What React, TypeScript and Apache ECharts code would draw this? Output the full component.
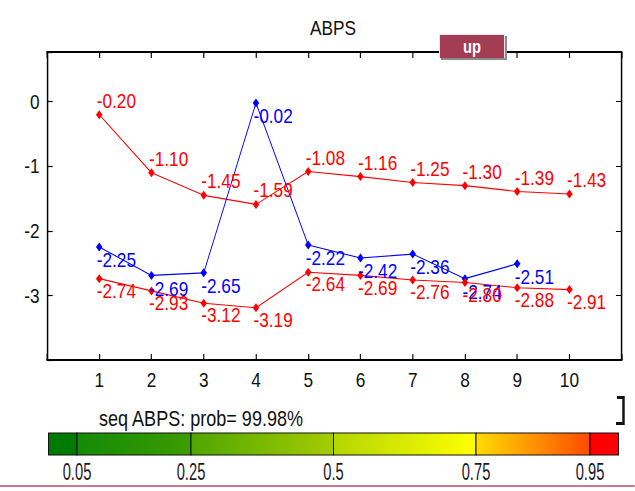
import React, { useEffect, useRef } from "react";
import * as echarts from "echarts";

const xCats = [1, 2, 3, 4, 5, 6, 7, 8, 9, 10];
const redUpper = [-0.2, -1.1, -1.45, -1.59, -1.08, -1.16, -1.25, -1.3, -1.39, -1.43];
const blueMid = [-2.25, -2.69, -2.65, -0.02, -2.22, -2.42, -2.36, -2.74, -2.51];
const redLower = [-2.74, -2.93, -3.12, -3.19, -2.64, -2.69, -2.76, -2.8, -2.88, -2.91];
const yTickLabels = [0, -1, -2, -3];
const probBreaks = [0.05, 0.25, 0.5, 0.75, 0.95];
const probText = "seq ABPS: prob= 99.98%";
const titleText = "ABPS";
const buttonText = "up";

const FONT = "'Liberation Sans', Arial, sans-serif";

// The reference uses a condensed face; the whole chart is drawn wider and squeezed horizontally.
const S = 0.82;
const W = 635;
const H = 491;
const LW = W / S;
const X = (realX: number) => realX / S;

const pairs = (vals: number[]) => vals.map((v, i) => [xCats[i], v]);

export default function App() {
  const ref = useRef<HTMLDivElement>(null);
  useEffect(() => {
    if (!ref.current) return;
    const chart = echarts.init(ref.current, null, { renderer: "svg" });

    const barX0 = X(48.5);
    const barX1 = X(618.5);
    const barY = 433;
    const barH = 22;
    const bw = barX1 - barX0;
    const px = (f: number) => barX0 + f * bw;
    const segColors: [string, string][] = [
      ["#007a00", "#007a00"],
      ["#138a08", "#3d9c00"],
      ["#4fa600", "#a6cc00"],
      ["#b5d600", "#ffff00"],
      ["#ffdc00", "#ff4a00"],
      ["#ff0000", "#ff0000"],
    ];
    const edges = [0, ...probBreaks, 1];
    const barGraphics: any[] = [];
    for (let i = 0; i < edges.length - 1; i++) {
      const x0 = px(edges[i]);
      const x1 = px(edges[i + 1]);
      barGraphics.push({
        type: "rect",
        shape: { x: x0, y: barY, width: x1 - x0, height: barH },
        style: {
          fill: new echarts.graphic.LinearGradient(0, 0, 1, 0, [
            { offset: 0, color: segColors[i][0] },
            { offset: 1, color: segColors[i][1] },
          ]),
          stroke: "#111",
          lineWidth: 1.2,
        },
        silent: true,
      });
    }
    probBreaks.forEach((b) => {
      barGraphics.push({
        type: "text",
        x: px(b),
        y: 472,
        scaleX: 0.78,
        scaleY: 1,
        style: {
          text: String(b),
          align: "center",
          verticalAlign: "middle",
          fontSize: 23,
          fontFamily: FONT,
          fill: "#1a1a2a",
        },
      });
    });

    const axisCommon = {
      type: "value" as const,
      axisLine: { show: true, onZero: false, lineStyle: { color: "#000", width: 1.8 } },
      splitLine: { show: false },
    };
    const xTick = { show: true, inside: true, length: 6, lineStyle: { color: "#000", width: 1.4 } };
    const yTick = { show: true, inside: true, length: 7, lineStyle: { color: "#000", width: 1.2 } };

    const labelStyle = (color: string, off: [number, number]) => ({
      show: true,
      position: "right" as const,
      distance: 0,
      offset: off,
      color,
      fontSize: 21,
      fontFamily: FONT,
      formatter: (p: any) => Number(p.value[1]).toFixed(2),
    });

    chart.setOption({
      animation: false,
      backgroundColor: "#fff",
      grid: { left: X(47), top: 52, right: X(13), bottom: 131, containLabel: false },
      xAxis: [
        {
          ...axisCommon,
          axisTick: xTick,
          position: "bottom",
          min: 0,
          max: 11,
          interval: 1,
          axisLabel: {
            show: true,
            margin: 9,
            color: "#111",
            fontSize: 21,
            fontFamily: FONT,
            formatter: (v: number) => (xCats.indexOf(v) >= 0 ? String(v) : ""),
          },
        },
        {
          ...axisCommon,
          axisTick: xTick,
          position: "top",
          min: 0,
          max: 11,
          interval: 1,
          axisLabel: { show: false },
        },
      ],
      yAxis: [
        {
          ...axisCommon,
          axisTick: yTick,
          position: "left",
          min: -4,
          max: 0.77,
          interval: 1,
          axisLabel: {
            show: true,
            margin: 9,
            color: "#111",
            fontSize: 21,
            fontFamily: FONT,
            formatter: (v: number) => (yTickLabels.indexOf(v) >= 0 ? String(v) : ""),
          },
        },
        {
          ...axisCommon,
          axisTick: yTick,
          position: "right",
          min: -4,
          max: 0.77,
          interval: 1,
          axisLabel: { show: false },
        },
      ],
      series: [
        {
          type: "line",
          data: pairs(redUpper),
          symbol: "diamond",
          symbolSize: [8, 9],
          lineStyle: { color: "#ff0000", width: 1.1 },
          itemStyle: { color: "#ff0000" },
          label: labelStyle("#ff0000", [-7, -14]),
        },
        {
          type: "line",
          data: pairs(blueMid),
          symbol: "diamond",
          symbolSize: [8, 9],
          lineStyle: { color: "#0000ff", width: 1.1 },
          itemStyle: { color: "#0000ff" },
          label: labelStyle("#0000ff", [-7, 13]),
        },
        {
          type: "line",
          data: pairs(redLower),
          symbol: "diamond",
          symbolSize: [8, 9],
          lineStyle: { color: "#ff0000", width: 1.1 },
          itemStyle: { color: "#ff0000" },
          label: labelStyle("#ff0000", [-7, 12]),
        },
      ],
      graphic: [
        {
          type: "text",
          x: X(333),
          y: 28,
          style: {
            text: titleText,
            align: "center",
            verticalAlign: "middle",
            fontSize: 21,
            fontFamily: FONT,
            fill: "#111",
          },
        },
        {
          type: "group",
          z: 100,
          children: [
            { type: "rect", z: 100, shape: { x: X(441), y: 36, width: X(507) - X(441), height: 24 }, style: { fill: "#8c8c8c" } },
            { type: "rect", z: 101, shape: { x: X(439), y: 34, width: X(505) - X(439), height: 24 }, style: { fill: "#e6e6e6" } },
            { type: "rect", z: 102, shape: { x: X(440), y: 35, width: X(504) - X(440), height: 23 }, style: { fill: "#a43c53" } },
            {
              type: "text",
              z: 103,
              x: X(472),
              y: 46.5,
              style: {
                text: buttonText,
                align: "center",
                verticalAlign: "middle",
                fontSize: 18,
                fontWeight: "bold",
                fontFamily: FONT,
                fill: "#fff",
              },
            },
          ],
        },
        {
          type: "polyline",
          shape: { points: [[X(617), 397.5], [X(623.5), 397.5], [X(623.5), 423.5], [X(616), 423.5]] },
          style: { stroke: "#111", lineWidth: 3, fill: null },
        },
        {
          type: "text",
          x: X(99),
          y: 418,
          style: {
            text: probText,
            align: "left",
            verticalAlign: "middle",
            fontSize: 22,
            fontFamily: FONT,
            fill: "#111",
          },
        },
        ...barGraphics,
        {
          type: "line",
          shape: { x1: 0, y1: 486, x2: LW, y2: 486 },
          style: { stroke: "#c97888", lineWidth: 2 },
        },
      ],
    });
    return () => chart.dispose();
  }, []);
  return (
    <div
      style={{ position: "fixed", left: 0, top: 0, width: W, height: H, overflow: "hidden", background: "#fff" }}
    >
      <div
        ref={ref}
        style={{
          width: LW,
          height: H,
          transform: `scaleX(${S})`,
          transformOrigin: "0 0",
        }}
      />
    </div>
  );
}
